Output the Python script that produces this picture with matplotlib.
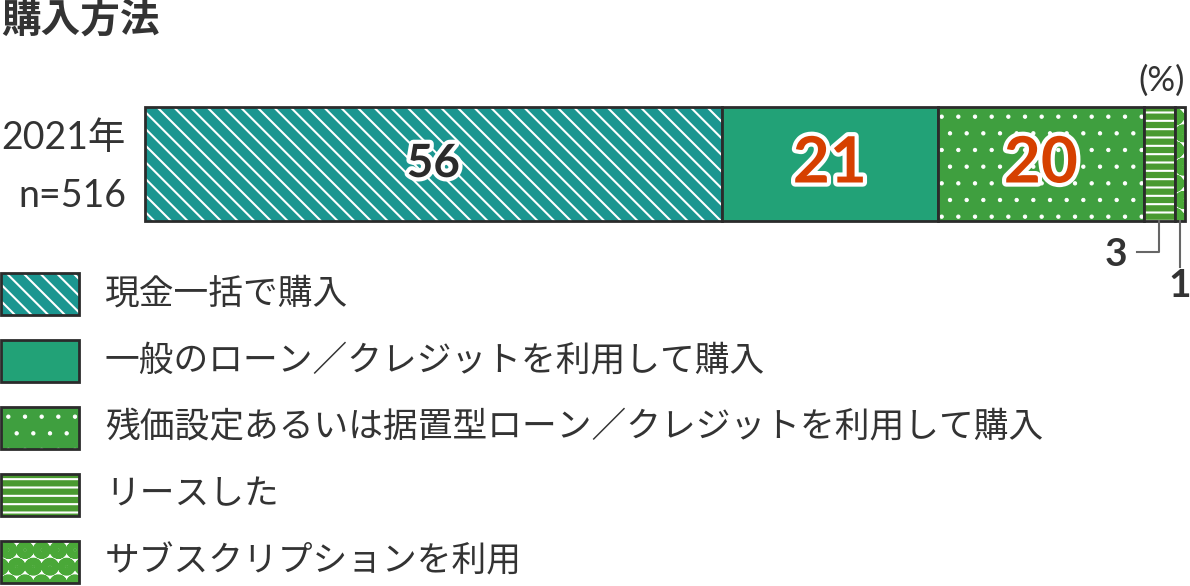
import numpy as np
import matplotlib.pyplot as plt
import matplotlib.patheffects as pe
from matplotlib.patches import Rectangle

plt.rcParams['font.family'] = ['Lato', 'Noto Sans CJK JP', 'DejaVu Sans']

# data
title = '購入方法'
year_label = '2021年'
n_label = 'n=516'
categories = ['現金一括で購入',
              '一般のローン／クレジットを利用して購入',
              '残価設定あるいは据置型ローン／クレジットを利用して購入',
              'リースした',
              'サブスクリプションを利用']
values = [56, 21, 20, 3, 1]

# styles
face = ['#1b9690', '#22a277', '#3f9f3f', '#4a9a30', '#ffffff']
hatch_col = ['white', None, 'white', 'white', '#4aa838']
hatches = ['\\\\', None, '.', '--', 'O.']
hatch_lw = [1.5, 1.0, 0.7, 1.5, 4.5]
label_col = ['#2b2b2b', '#d64000', '#d64000']
dark = '#333333'


def fill_patch(p, i):
    if hasattr(p, 'set_hatch_linewidth'):
        p.set_hatch_linewidth(hatch_lw[i])


fig = plt.figure(figsize=(11.9, 5.86), dpi=100)
ax0 = fig.add_axes([0, 0, 1, 1])
ax0.set_xlim(0, 1190)
ax0.set_ylim(586, 0)
ax0.axis('off')

ax0.text(1, 20, title, fontsize=28.5, fontweight='bold', color=dark,
         family='Noto Sans CJK JP', va='center', ha='left')
ax0.text(126, 138, year_label, fontsize=27, color=dark, va='center', ha='right')
ax0.text(126, 196, n_label, fontsize=27, color=dark, va='center', ha='right')
ax0.text(1162, 81, '(%)', fontsize=25, color=dark, va='center', ha='center')

# stacked bar
ax = fig.add_axes([145 / 1190, (586 - 221) / 586, 1040 / 1190, 114 / 586])
total = sum(values)
ax.set_xlim(0, total)
ax.set_ylim(-0.5, 0.5)
ax.axis('off')

lefts = np.cumsum([0] + values[:-1])
for i, (v, l) in enumerate(zip(values, lefts)):
    with plt.rc_context({'hatch.linewidth': hatch_lw[i]}):
        bars = ax.barh(0, v, left=l, height=1, color=face[i],
                       edgecolor=hatch_col[i] if hatch_col[i] else face[i],
                       hatch=hatches[i], linewidth=0)
        for p in bars:
            fill_patch(p, i)
    ax.barh(0, v, left=l, height=1, fill=False, edgecolor='#2b2b2b',
            linewidth=2, clip_on=False)

# labels inside the big segments
for i, (v, l) in enumerate(zip(values, lefts)):
    if v >= 10:
        fs = 33 if i == 0 else 46
        t = ax.text(l + v / 2, 0, str(v), ha='center', va='center',
                    fontsize=fs, fontweight='bold', color=label_col[i])
        t.set_path_effects([pe.withStroke(linewidth=6, foreground='white')])

# leader lines for small segments
x3 = lefts[3] + values[3] / 2
ax.plot([x3, x3, x3 - 2.2], [-0.5, -0.77, -0.77], color='#666666',
        lw=1.5, clip_on=False)
ax.text(x3 - 3.1, -0.79, str(values[3]), ha='right', va='center',
        fontsize=28, fontweight='bold', color=dark)
x1 = lefts[4] + values[4] / 2
ax.plot([x1, x1], [-0.5, -0.9], color='#666666', lw=1.5, clip_on=False)
ax.text(x1, -1.07, str(values[4]), ha='center', va='center',
        fontsize=28, fontweight='bold', color=dark)

# legend
for i, cat in enumerate(categories):
    yc = 294 + 67 * i
    with plt.rc_context({'hatch.linewidth': hatch_lw[i]}):
        r = Rectangle((1, yc - 21), 78, 42, facecolor=face[i],
                      edgecolor=hatch_col[i] if hatch_col[i] else face[i],
                      hatch=hatches[i], linewidth=0)
        fill_patch(r, i)
    ax0.add_patch(r)
    ax0.add_patch(Rectangle((1, yc - 21), 78, 42, fill=False,
                            edgecolor='#2b2b2b', linewidth=2))
    ax0.text(105, yc, cat, fontsize=25, color=dark, va='center', ha='left',
             family=['Noto Sans CJK JP', 'DejaVu Sans'])

fig.savefig('out.png', dpi=100)
